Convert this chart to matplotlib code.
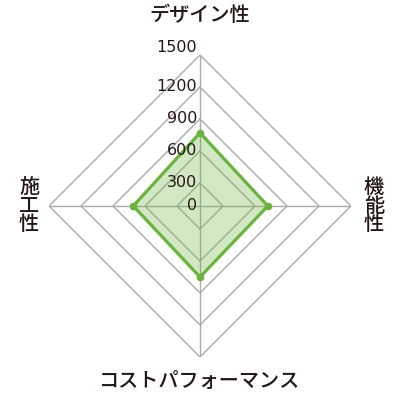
import numpy as np
import matplotlib
matplotlib.use('Agg')
import matplotlib.pyplot as plt

# categories clockwise from the top
categories = ['デザイン性', '機能性', 'コストパフォーマンス', '施工性']
values = [770, 720, 750, 710]
ring_values = [300, 600, 900, 1200, 1500]
tick_labels = ['0', '300', '600', '900', '1200', '1500']
tick_values = [0, 300, 600, 900, 1200, 1500]

r_min = 84   # value sitting at the centre (first ring is a little off zero)
r_max = 1500

text_color = '#231815'
grid_color = '#ababab'
green = '#6ab43e'

plt.rcParams['font.family'] = ['Noto Sans CJK JP', 'DejaVu Sans']

fig = plt.figure(figsize=(4, 4), dpi=100)
ax = fig.add_axes([0.5 - 0.3775, 0.485 - 0.3775, 0.755, 0.755], projection='polar')
ax.set_theta_offset(np.pi / 2)
ax.set_theta_direction(-1)
ax.set_ylim(r_min, r_max)
ax.grid(False)
ax.set_xticks([])
ax.set_yticks([])
ax.spines['polar'].set_visible(False)
ax.patch.set_visible(False)

angles = np.linspace(0, 2 * np.pi, len(categories), endpoint=False)
closed = np.append(angles, angles[0])

# diamond rings and spokes
for rv in ring_values:
    ax.plot(closed, [rv] * len(closed), color=grid_color, lw=1.0, zorder=1)
for a in angles:
    ax.plot([a, a], [r_min, r_max], color=grid_color, lw=1.0, zorder=1)

# data
vals = values + values[:1]
ax.fill(closed, vals, color=green, alpha=0.3, lw=0, zorder=2)
ax.plot(closed, vals, color=green, lw=2.3, zorder=3, solid_joinstyle='miter')
ax.plot(angles, values, 'o', color=green, ms=4.5, zorder=4)

# scale labels along the top spoke
for tv, tl in zip(tick_values, tick_labels):
    r = max(tv, r_min)
    va = 'bottom' if tv == r_max else 'center'
    ax.annotate(tl, (0, r), xytext=(-2, 0), textcoords='offset points',
                ha='right', va=va, fontsize=11.5, color=text_color,
                family='DejaVu Sans', annotation_clip=False, zorder=5)

# category labels
lab = dict(fontsize=14.5, color=text_color, weight='medium')
fig.text(0.5, 1 - 15 / 400, categories[0], ha='center', va='center', **lab)
fig.text(0.5, 1 - 381 / 400, categories[2], ha='center', va='center', **lab)
fig.text(374 / 400, 1 - 206 / 400, '\n'.join(categories[1]), ha='center',
         va='center', linespacing=0.95, **lab)
fig.text(29 / 400, 1 - 206 / 400, '\n'.join(categories[3]), ha='center',
         va='center', linespacing=0.95, **lab)

fig.savefig('out.png', dpi=100)
